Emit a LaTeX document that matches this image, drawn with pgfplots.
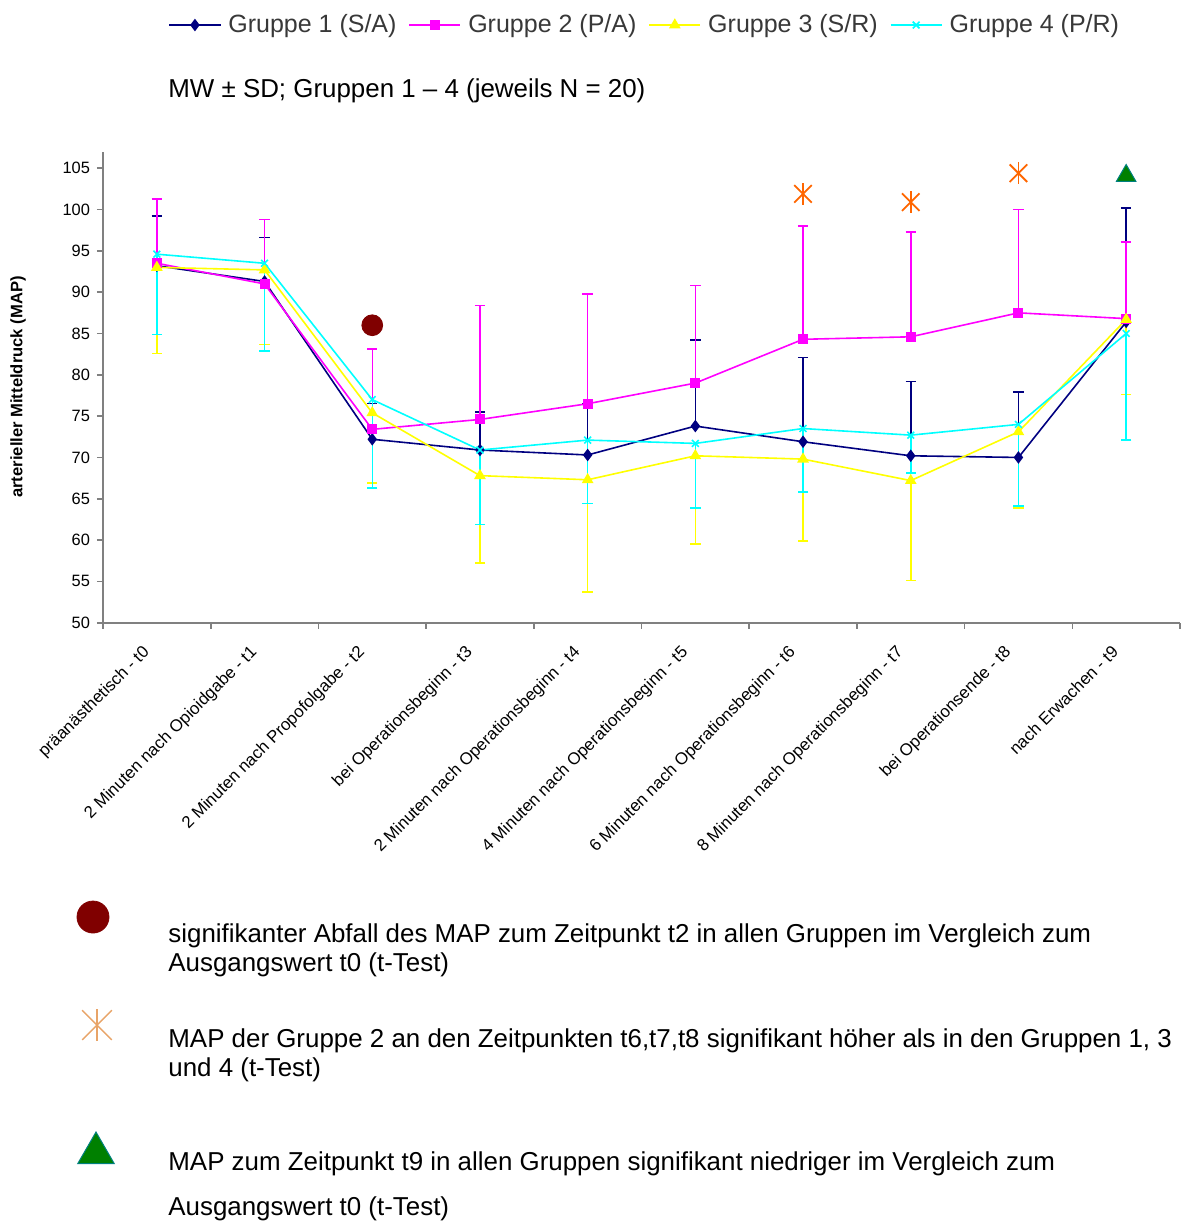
\documentclass[border=0pt]{standalone}
\usepackage{fontspec}
\setmainfont{Liberation Sans}
\usepackage{pgfplots}
\pgfplotsset{compat=1.18}
\definecolor{gnavy}{HTML}{000080}
\definecolor{gmag}{HTML}{FF00FF}
\definecolor{gyel}{HTML}{FFFF00}
\definecolor{gcyan}{HTML}{00FFFF}
\definecolor{sigred}{HTML}{800000}
\definecolor{sigorange}{HTML}{FF6600}
\definecolor{keyorange}{HTML}{E8A468}
\definecolor{siggreen}{HTML}{008000}
\definecolor{sigteal}{HTML}{008080}
\definecolor{axgray}{HTML}{808080}
\newcommand\notefont{\fontsize{12.95}{15}\selectfont}
\begin{document}
\begin{tikzpicture}
\useasboundingbox (0,0) rectangle (590pt,-611pt);
% ---------------- main chart ----------------
\begin{axis}[
  at={(51.5pt,-311.35pt)}, anchor=south west,
  scale only axis, width=538.5pt, height=235.5pt,
  xmin=-0.5, xmax=9.5, ymin=50, ymax=107,
  axis lines*=left,
  axis line style={draw=axgray, line width=0.8pt},
  clip=false,
  tick align=outside,
  xtick={0,...,9},
  xticklabels={präanästhetisch - t0, 2 Minuten nach Opioidgabe - t1, 2 Minuten nach Propofolgabe - t2, bei Operationsbeginn - t3, 2 Minuten nach Operationsbeginn - t4, 4 Minuten nach Operationsbeginn - t5, 6 Minuten nach Operationsbeginn - t6, 8 Minuten nach Operationsbeginn - t7, bei Operationsende - t8, nach Erwachen - t9},
  minor xtick={-0.5,0.5,...,9.5},
  major x tick style={draw=none},
  minor x tick style={draw=axgray, line width=0.8pt},
  minor tick length=3pt,
  ytick={50,55,...,105},
  y tick style={draw=axgray, line width=0.8pt},
  major tick length=3pt,
  xticklabel style={rotate=45, anchor=north east, font=\fontsize{8.45}{10}\selectfont, xshift=-7.5pt, yshift=3.5pt},
  yticklabel style={font=\fontsize{8.2}{10}\selectfont},
  /pgf/number format/assume math mode=true,
  legend columns=4,
  legend style={draw=none, fill=none, at={(0.504,1.269)}, anchor=center,
    font=\color{black!78}\fontsize{12.5}{15}\selectfont,
    /tikz/every odd column/.append style={column sep=1.5pt},
    /tikz/every even column/.append style={column sep=4pt}},
  legend image code/.code={\draw[mark repeat=2,mark phase=2] plot coordinates {(0cm,0cm) (0.45cm,0cm) (0.9cm,0cm)};},
]
% Gruppe 1 (S/A)
\addplot[color=gnavy, line width=0.8pt, mark=diamond*, mark size=2.5pt, mark options={fill=gnavy},
  error bars/.cd, y dir=plus, y explicit,
  error bar style={line width=0.75pt, gnavy},
  error mark options={rotate=90, gnavy, line width=0.75pt, mark size=2.6pt}]
coordinates {
(0,93.2) +- (0,6.0)
(1,91.3) +- (0,5.3)
(2,72.2) +- (0,4.3)
(3,70.9) +- (0,4.6)
(4,70.3) +- (0,6.2)
(5,73.8) +- (0,10.4)
(6,71.9) +- (0,10.2)
(7,70.2) +- (0,9.0)
(8,70.0) +- (0,7.9)
(9,86.4) +- (0,13.8)
};
\addlegendentry{Gruppe 1 (S/A)}
% Gruppe 2 (P/A)
\addplot[color=gmag, line width=0.8pt, mark=square*, mark size=2.1pt, mark options={fill=gmag},
  error bars/.cd, y dir=plus, y explicit,
  error bar style={line width=0.75pt, gmag},
  error mark options={rotate=90, gmag, line width=0.75pt, mark size=2.6pt}]
coordinates {
(0,93.5) +- (0,7.75)
(1,91.0) +- (0,7.8)
(2,73.4) +- (0,9.7)
(3,74.6) +- (0,13.8)
(4,76.5) +- (0,13.3)
(5,79.0) +- (0,11.8)
(6,84.3) +- (0,13.7)
(7,84.6) +- (0,12.7)
(8,87.5) +- (0,12.5)
(9,86.8) +- (0,9.3)
};
\addlegendentry{Gruppe 2 (P/A)}
% Gruppe 3 (S/R)
\addplot[color=gyel, line width=0.8pt, mark=triangle*, mark size=2.6pt, mark options={fill=gyel},
  error bars/.cd, y dir=minus, y explicit,
  error bar style={line width=0.75pt, gyel},
  error mark options={rotate=90, gyel, line width=0.75pt, mark size=2.6pt}]
coordinates {
(0,93.0) +- (0,10.4)
(1,92.7) +- (0,9.0)
(2,75.4) +- (0,8.5)
(3,67.8) +- (0,10.6)
(4,67.3) +- (0,13.6)
(5,70.2) +- (0,10.7)
(6,69.8) +- (0,9.9)
(7,67.2) +- (0,12.1)
(8,73.1) +- (0,9.2)
(9,86.7) +- (0,9.1)
};
\addlegendentry{Gruppe 3 (S/R)}
% Gruppe 4 (P/R)
\addplot[color=gcyan, line width=0.8pt, mark=x, mark size=2.4pt, mark options={line width=0.8pt},
  error bars/.cd, y dir=minus, y explicit,
  error bar style={line width=0.75pt, gcyan},
  error mark options={rotate=90, gcyan, line width=0.75pt, mark size=2.6pt}]
coordinates {
(0,94.6) +- (0,9.7)
(1,93.5) +- (0,10.6)
(2,77.0) +- (0,10.7)
(3,70.9) +- (0,9.0)
(4,72.1) +- (0,7.7)
(5,71.7) +- (0,7.8)
(6,73.5) +- (0,7.7)
(7,72.7) +- (0,4.6)
(8,74.0) +- (0,9.9)
(9,85.0) +- (0,12.9)
};
\addlegendentry{Gruppe 4 (P/R)}
% significance markers
\addplot[forget plot, only marks, mark=*, mark size=5.2pt, color=sigred] coordinates {(2,86.0)};
\addplot[forget plot, only marks, mark=x, mark size=6.2pt, color=sigorange, mark options={line width=0.9pt}] coordinates {(6,101.9) (7,100.9) (8,104.4)};
\addplot[forget plot, only marks, mark=|, mark size=5.4pt, color=sigorange, mark options={line width=0.9pt}] coordinates {(6,101.9) (7,100.9) (8,104.4)};
\addplot[forget plot, only marks, mark=triangle*, mark size=5.6pt, mark options={fill=siggreen, draw=sigteal, line width=0.5pt}] coordinates {(9,104.1)};
\end{axis}
% ---------------- overlay: titles and key ----------------
\begin{axis}[
  at={(0pt,0pt)}, anchor=north west,
  scale only axis, width=590pt, height=611pt,
  xmin=0, xmax=1180, ymin=0, ymax=1222, y dir=reverse,
  hide axis, clip=false,
]
\addplot[only marks, mark=*, mark size=8pt, color=sigred] coordinates {(93,917)};
\addplot[only marks, mark=x, mark size=10.5pt, color=keyorange, mark options={line width=0.7pt}] coordinates {(97,1025)};
\addplot[only marks, mark=|, mark size=8pt, color=keyorange, mark options={line width=0.7pt}] coordinates {(97,1025)};
\addplot[only marks, mark=triangle*, mark size=10.5pt, mark options={fill=siggreen, draw=sigteal, line width=0.5pt}] coordinates {(96,1153)};
\node[anchor=base west, font=\notefont, inner sep=0pt] at (axis cs:168,97) {MW ± SD; Gruppen 1 – 4 (jeweils N = 20)};
\node[rotate=90, anchor=center, font=\bfseries\fontsize{8.3}{10}\selectfont] at (axis cs:18,387) {arterieller Mitteldruck (MAP)};
\node[anchor=base west, font=\notefont, inner sep=0pt] at (axis cs:168,942) {signifikanter Abfall des MAP zum Zeitpunkt t2 in allen Gruppen im Vergleich zum};
\node[anchor=base west, font=\notefont, inner sep=0pt] at (axis cs:168,971) {Ausgangswert t0 (t-Test)};
\node[anchor=base west, font=\notefont, inner sep=0pt] at (axis cs:168,1047) {MAP der Gruppe 2 an den Zeitpunkten t6,t7,t8 signifikant höher als in den Gruppen 1, 3};
\node[anchor=base west, font=\notefont, inner sep=0pt] at (axis cs:168,1076) {und 4 (t-Test)};
\node[anchor=base west, font=\notefont, inner sep=0pt] at (axis cs:168,1170) {MAP zum Zeitpunkt t9 in allen Gruppen signifikant niedriger im Vergleich zum};
\node[anchor=base west, font=\notefont, inner sep=0pt] at (axis cs:168,1215) {Ausgangswert t0 (t-Test)};
\end{axis}
\end{tikzpicture}
\end{document}
